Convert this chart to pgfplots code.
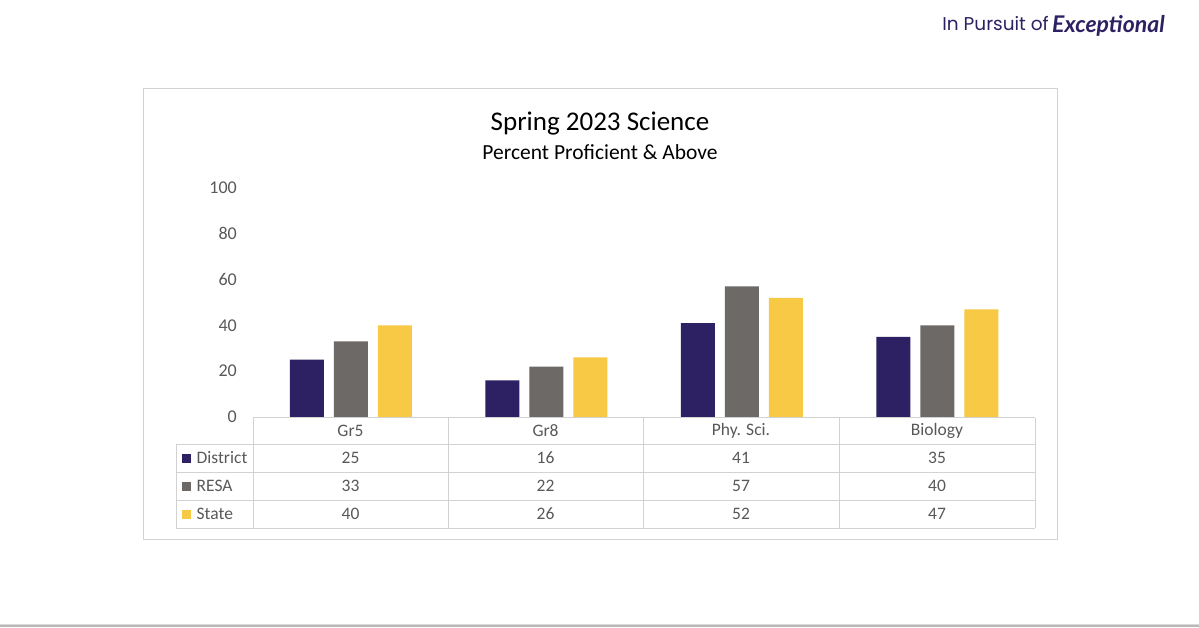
\documentclass[border=0pt]{standalone}
\usepackage{pgfplots}
\pgfplotsset{compat=1.18}
\usepackage{fontspec}
\setmainfont{Carlito}
\newfontfamily\poppins{Poppins}
\newfontfamily\lato{Lato}
\definecolor{dist}{RGB}{45,33,99}
\definecolor{resa}{RGB}{109,105,103}
\definecolor{state}{RGB}{247,201,69}
\definecolor{txtgray}{RGB}{89,89,89}
\definecolor{linegray}{RGB}{210,210,210}
\definecolor{brand}{RGB}{46,33,99}
\begin{document}
\begin{tikzpicture}[x=1pt,y=1pt]
\path[fill=white] (0,0) rectangle (1199,627);
\fill[black!28] (0,0) rectangle (1199,2);
\fill[black!15] (0,2) rectangle (1199,3.5);
% branding
\node[anchor=east,inner sep=0pt,text=brand,font=\poppins\fontsize{18.5}{20}\selectfont] at (1049,603) {In Pursuit of};
\node[anchor=west,inner sep=0pt,text=brand,font=\lato\bfseries\itshape\fontsize{23}{25}\selectfont] at (1052,601) {Exceptional};
% chart frame
\draw[linegray,line width=1pt] (143,88) rectangle (1057,538);
\node[font=\fontsize{27}{30}\selectfont,text=black] at (600,503) {Spring 2023 Science};
\node[font=\fontsize{21.5}{24}\selectfont,text=black] at (600,475) {Percent Proficient \& Above};
\begin{axis}[
  at={(253pt,210pt)}, anchor=south west,
  scale only axis, width=782pt, height=229pt,
  xmin=-0.5, xmax=3.5, ymin=0, ymax=100,
  ybar=10pt, bar width=34pt,
  axis line style={draw=none},
  xtick=\empty,
  ytick={0,20,40,60,80,100},
  major tick length=0pt,
  /pgf/number format/assume math mode=true,
  yticklabel style={font=\fontsize{18}{20}\selectfont, text=txtgray, inner sep=0pt, anchor=east, xshift=-16pt},
  clip=false,
]
\addplot[fill=dist,draw=none] coordinates {(0,25) (1,16) (2,41) (3,35)};
\addplot[fill=resa,draw=none] coordinates {(0,33) (1,22) (2,57) (3,40)};
\addplot[fill=state,draw=none] coordinates {(0,40) (1,26) (2,52) (3,47)};
\end{axis}
% data table
\begin{scope}[linegray,line width=1pt]
\draw (253,209) -- (1035,209);
\draw (176,183) -- (1035,183);
\draw (176,155) -- (1035,155);
\draw (176,127) -- (1035,127);
\draw (176,99) -- (1035,99);
\draw (176,183) -- (176,99);
\foreach \x in {253,448,643,839,1035} \draw (\x,209) -- (\x,99);
\end{scope}
\begin{scope}[every node/.style={font=\fontsize{17.5}{19}\selectfont,text=txtgray}]
\node at (350.5,196) {Gr5};
\node at (545.5,196) {Gr8};
\node at (741,196) {Phy. Sci.};
\node at (937,196) {Biology};
\node at (350.5,169) {25}; \node at (545.5,169) {16}; \node at (741,169) {41}; \node at (937,169) {35};
\node at (350.5,141) {33}; \node at (545.5,141) {22}; \node at (741,141) {57}; \node at (937,141) {40};
\node at (350.5,113) {40}; \node at (545.5,113) {26}; \node at (741,113) {52}; \node at (937,113) {47};
\fill[dist] (182,164.5) rectangle (191,173.5);
\fill[resa] (182,136.5) rectangle (191,145.5);
\fill[state] (182,108.5) rectangle (191,117.5);
\node[anchor=west,inner sep=0pt] at (196.5,169) {District};
\node[anchor=west,inner sep=0pt] at (196.5,141) {RESA};
\node[anchor=west,inner sep=0pt] at (196.5,113) {State};
\end{scope}
\end{tikzpicture}
\end{document}
